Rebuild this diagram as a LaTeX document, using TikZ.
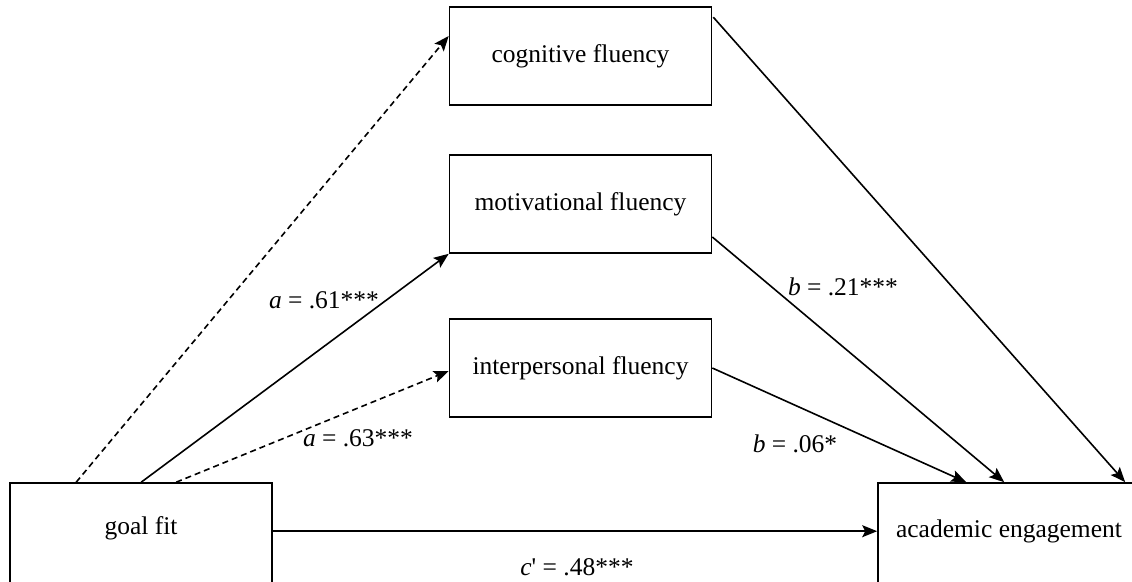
\documentclass[tikz,border=0pt]{standalone}
\usepackage{fontspec}
\setmainfont{Liberation Serif}
\usetikzlibrary{arrows.meta,calc}
\begin{document}
\begin{tikzpicture}[x=1pt,y=-1pt,
  box/.style={draw,line width=1.6pt,minimum width=262pt,minimum height=98pt,inner sep=0pt,font=\fontsize{25.5}{30}\selectfont},
  lab/.style={font=\fontsize{25.5}{30}\selectfont,inner sep=1pt},
  conn/.style={line width=1.6pt,-{Stealth[length=15pt,width=12pt,inset=3pt]}},
  dsh/.style={conn,dash pattern=on 6pt off 4pt}]
\useasboundingbox (0,0) rectangle (1132,581);
\node[box] (cf) at (580.5,56) {cognitive fluency};
\node[box] (mf) at (580.5,204) {motivational fluency};
\node[box] (ip) at (580.5,368) {interpersonal fluency};
\node[box,minimum height=110pt] (gf) at (141,538) {};
\node[lab] at (141,528) {goal fit};
\node[box,minimum height=110pt] (ae) at (1009,538) {};
\node[lab] at (1009,531) {academic engagement};
% start/end coordinates
\coordinate (g1) at ($(gf.north west)+(67,0)$);
\coordinate (g2) at ($(gf.north west)+(132,0)$);
\coordinate (g3) at ($(gf.north west)+(167,0)$);
\coordinate (c1) at ($(cf.west)+(0,-20)$);
\coordinate (c2) at ($(cf.north east)+(1,11)$);
\coordinate (m2) at ($(mf.east)+(0,33)$);
\coordinate (a1) at ($(ae.north west)+(89,0)$);
\coordinate (a2) at ($(ae.north west)+(127,0)$);
\coordinate (a3) at ($(ae.north west)+(248,0)$);
\coordinate (ip1) at ($(ip.west)+(0,3)$);
\coordinate (gfe) at ($(gf.north east)+(0,49)$);
\coordinate (aew) at ($(ae.north west)+(0,49)$);
\draw[dsh] (g1) -- (c1);
\draw[conn] (g2) -- (mf.south west);
\draw[dsh] (g3) -- (ip1);
\draw[conn] (gfe) -- (aew);
\draw[conn] (c2) -- (a3);
\draw[conn] (m2) -- (a2);
\draw[conn] (ip.east) -- (a1);
\node[lab] (la1) at (324,300) {\textit{a} = .61***};
\node[lab] (la2) at (358,438) {\textit{a} = .63***};
\node[lab] (lb1) at (843,287) {\textit{b} = .21***};
\node[lab] (lb2) at (795,444) {\textit{b} = .06*};
\node[lab] (lc) at (577,567) {\textit{c}\textquotesingle{} = .48***};
\end{tikzpicture}
\end{document}
